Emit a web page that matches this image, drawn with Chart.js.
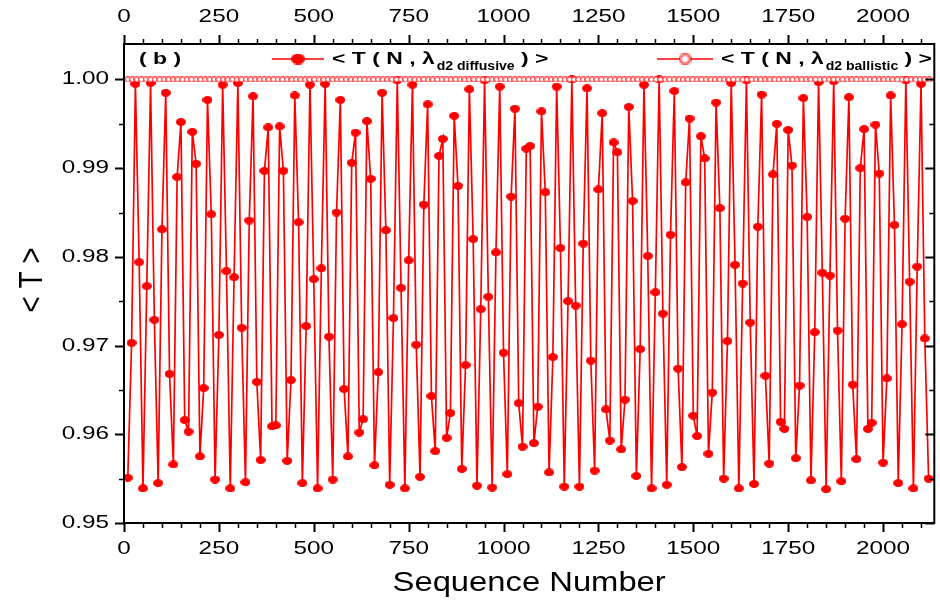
<!DOCTYPE html>
<html>
<head>
<meta charset="utf-8">
<script src="https://cdn.jsdelivr.net/npm/chart.js@4.4.1/dist/chart.umd.min.js"></script>
<style>
  html, body { margin: 0; padding: 0; background: #ffffff; }
  #wrap { width: 940px; height: 603px; }
</style>
</head>
<body>
<div id="wrap"><canvas id="chart" width="940" height="603"></canvas></div>
<script>
// Sequence numbers: first point and spacing between successive sequences
const seqStart = 10;
const seqStep = 10;

// <T(N, λd2 diffusive)> for each sequence
const diffusiveT = [
  0.9551, 0.9703, 0.9995, 0.9794, 0.9539, 0.9767, 0.9996, 0.9729, 0.9545, 0.9831,
  0.9985, 0.9668, 0.9566, 0.9890, 0.9952, 0.9616, 0.9603, 0.9941, 0.9905, 0.9575,
  0.9652, 0.9977, 0.9848, 0.9549, 0.9712, 0.9994, 0.9784, 0.9539, 0.9777, 0.9996,
  0.9720, 0.9546, 0.9841, 0.9981, 0.9659, 0.9571, 0.9897, 0.9946, 0.9609, 0.9610,
  0.9947, 0.9897, 0.9570, 0.9661, 0.9982, 0.9839, 0.9545, 0.9722, 0.9994, 0.9775,
  0.9539, 0.9787, 0.9995, 0.9710, 0.9549, 0.9850, 0.9977, 0.9651, 0.9575, 0.9906,
  0.9940, 0.9602, 0.9617, 0.9953, 0.9888, 0.9565, 0.9670, 0.9985, 0.9830, 0.9543,
  0.9731, 0.9999, 0.9765, 0.9539, 0.9796, 0.9994, 0.9701, 0.9552, 0.9859, 0.9972,
  0.9643, 0.9581, 0.9914, 0.9933, 0.9596, 0.9624, 0.9959, 0.9880, 0.9561, 0.9678,
  0.9989, 0.9820, 0.9542, 0.9741, 0.9999, 0.9755, 0.9540, 0.9805, 0.9992, 0.9692,
  0.9555, 0.9868, 0.9967, 0.9635, 0.9586, 0.9922, 0.9925, 0.9590, 0.9631, 0.9964,
  0.9873, 0.9557, 0.9687, 0.9992, 0.9810, 0.9541, 0.9750, 1.0000, 0.9745, 0.9541,
  0.9815, 0.9990, 0.9683, 0.9559, 0.9876, 0.9962, 0.9628, 0.9593, 0.9929, 0.9918,
  0.9583, 0.9639, 0.9969, 0.9863, 0.9553, 0.9696, 0.9994, 0.9801, 0.9539, 0.9760,
  1.0000, 0.9736, 0.9543, 0.9825, 0.9987, 0.9674, 0.9563, 0.9884, 0.9956, 0.9621,
  0.9598, 0.9936, 0.9911, 0.9578, 0.9647, 0.9974, 0.9855, 0.9550, 0.9705, 0.9996,
  0.9791, 0.9539, 0.9770, 0.9999, 0.9726, 0.9544, 0.9834, 0.9983, 0.9666, 0.9567,
  0.9893, 0.9950, 0.9614, 0.9606, 0.9943, 0.9903, 0.9573, 0.9655, 0.9979, 0.9845,
  0.9548, 0.9715, 0.9997, 0.9782, 0.9538, 0.9779, 0.9998, 0.9717, 0.9547, 0.9843,
  0.9980, 0.9656, 0.9572, 0.9900, 0.9944, 0.9606, 0.9613, 0.9949, 0.9894, 0.9568,
  0.9663, 0.9982, 0.9836, 0.9545, 0.9724, 0.9999, 0.9772, 0.9539, 0.9789, 0.9995,
  0.9708, 0.9550
];

// <T(N, λd2 ballistic)>: sampled on its own, denser grid
const ballisticStart = 10;
const ballisticStep = 12;
const ballisticT = [
  1,1,1,1,1,1,1,1,1,1, 1,1,1,1,1,1,1,1,1,1, 1,1,1,1,1,1,1,1,1,1,
  1,1,1,1,1,1,1,1,1,1, 1,1,1,1,1,1,1,1,1,1, 1,1,1,1,1,1,1,1,1,1,
  1,1,1,1,1,1,1,1,1,1, 1,1,1,1,1,1,1,1,1,1, 1,1,1,1,1,1,1,1,1,1,
  1,1,1,1,1,1,1,1,1,1, 1,1,1,1,1,1,1,1,1,1, 1,1,1,1,1,1,1,1,1,1,
  1,1,1,1,1,1,1,1,1,1, 1,1,1,1,1,1,1,1,1,1, 1,1,1,1,1,1,1,1,1,1,
  1,1,1,1,1,1,1,1,1,1, 1,1,1,1,1,1,1,1,1,1, 1,1,1,1,1,1,1
];

// Axis ticks
const xTicks = [0, 250, 500, 750, 1000, 1250, 1500, 1750, 2000];
const xMinorStep = 50;
const yTicks = [0.95, 0.96, 0.97, 0.98, 0.99, 1.00];
const yTickLabels = ['0.95', '0.96', '0.97', '0.98', '0.99', '1.00'];
const yMinorStep = 0.005;

const X_MIN = 0, X_MAX = 2135;
const Y_MIN = 0.95, Y_MAX = 1.004;

const RED = '#ff0000';
const FONT = '"Liberation Sans", Arial, Helvetica, sans-serif';

// Marker images: slightly wide filled dot and small open ring
function makeDot(w, h, filled) {
  const c = document.createElement('canvas');
  c.width = w; c.height = h;
  const g = c.getContext('2d');
  g.beginPath();
  g.ellipse(w / 2, h / 2, w / 2 - (filled ? 0 : 0.6), h / 2 - (filled ? 0 : 0.6), 0, 0, Math.PI * 2);
  if (filled) {
    g.fillStyle = RED; g.fill();
  } else {
    g.fillStyle = '#ffffff'; g.fill();
    g.lineWidth = 1; g.strokeStyle = RED; g.stroke();
  }
  return c;
}
const dotFilled = makeDot(10, 8, true);
const dotOpen = makeDot(7, 6, false);

const diffusivePts = diffusiveT.map((v, i) => ({ x: seqStart + i * seqStep, y: v }));
const ballisticPts = ballisticT.map((v, i) => ({ x: ballisticStart + i * ballisticStep, y: v }));

// Stretched text helper
function stretchText(ctx, txt, x, y, sx, align) {
  ctx.save();
  ctx.translate(x, y);
  ctx.scale(sx, 1);
  ctx.textAlign = align || 'left';
  ctx.fillText(txt, 0, 0);
  ctx.restore();
}
function textW(ctx, txt, sx) { return ctx.measureText(txt).width * sx; }

const frameAndText = {
  id: 'frameAndText',
  afterDraw(chart) {
    const ctx = chart.ctx;
    const a = chart.chartArea;
    const xs = chart.scales.x;
    const ys = chart.scales.y;
    ctx.save();

    // frame
    ctx.strokeStyle = '#000';
    ctx.lineWidth = 2;
    ctx.strokeRect(a.left, a.top, a.right - a.left, a.bottom - a.top);

    // x ticks, bottom (outward) and top (outward)
    for (let v = X_MIN; v <= X_MAX; v += xMinorStep) {
      const px = Math.round(xs.getPixelForValue(v)) + 0.5;
      const major = xTicks.includes(v);
      const len = major ? 9 : 5;
      ctx.lineWidth = major ? 2 : 1.5;
      ctx.beginPath();
      ctx.moveTo(px, a.bottom); ctx.lineTo(px, a.bottom + len);
      ctx.moveTo(px, a.top); ctx.lineTo(px, a.top - len);
      ctx.stroke();
    }
    // y ticks, left (outward) and right (inward)
    for (let k = 0; ; k++) {
      const v = Y_MIN + k * yMinorStep;
      if (v > Y_MAX + 1e-9) break;
      const py = Math.round(ys.getPixelForValue(v)) + 0.5;
      const major = k % 2 === 0;
      const len = major ? 9 : 5;
      ctx.lineWidth = major ? 2 : 1.5;
      ctx.beginPath();
      ctx.moveTo(a.left, py); ctx.lineTo(a.left - len, py);
      ctx.moveTo(a.right, py); ctx.lineTo(a.right - len, py);
      ctx.stroke();
    }

    // tick labels
    ctx.fillStyle = '#000';
    ctx.font = '18px ' + FONT;
    ctx.textBaseline = 'middle';
    const tsx = 1.35;
    xTicks.forEach(v => {
      const px = xs.getPixelForValue(v);
      stretchText(ctx, String(v), px, a.bottom + 26, tsx, 'center');
      stretchText(ctx, String(v), px, a.top - 27, tsx, 'center');
    });
    yTicks.forEach((v, i) => {
      const py = ys.getPixelForValue(v);
      stretchText(ctx, yTickLabels[i], a.left - 15, py, tsx, 'right');
    });

    // axis titles
    ctx.font = '28px ' + FONT;
    stretchText(ctx, 'Sequence Number', (a.left + a.right) / 2, 583, 1.17, 'center');
    ctx.save();
    ctx.translate(33, 280);
    ctx.rotate(-Math.PI / 2);
    ctx.scale(1, 1.17);
    ctx.textAlign = 'center';
    ctx.fillText('< T >', 0, 0);
    ctx.restore();

    // panel tag and legend
    const ly = 59;
    ctx.font = 'bold 17px ' + FONT;
    stretchText(ctx, '( b )', 139, ly, 1.35, 'left');

    function legendEntry(x0, x1, img, sub) {
      ctx.strokeStyle = RED;
      ctx.lineWidth = 1.6;
      ctx.beginPath();
      ctx.moveTo(x0, ly); ctx.lineTo(x1, ly);
      ctx.stroke();
      const big = img === dotFilled ? 14 : 13;
      const bigH = img === dotFilled ? 11 : 12;
      ctx.drawImage(img, (x0 + x1) / 2 - big / 2, ly - bigH / 2, big, bigH);
      let x = x1 + 8;
      ctx.fillStyle = '#000';
      ctx.font = 'bold 17px ' + FONT;
      const part1 = '< T ( N , \u03bb';
      stretchText(ctx, part1, x, ly, 1.35, 'left');
      x += textW(ctx, part1, 1.35) + 2;
      ctx.font = 'bold 12px ' + FONT;
      stretchText(ctx, sub, x, ly + 8, 1.17, 'left');
      x += textW(ctx, sub, 1.17);
      ctx.font = 'bold 17px ' + FONT;
      stretchText(ctx, ' ) >', x, ly, 1.35, 'left');
    }
    legendEntry(272, 324, dotFilled, 'd2 diffusive');
    legendEntry(657, 713, dotOpen, 'd2 ballistic');

    ctx.restore();
  }
};

new Chart(document.getElementById('chart'), {
  type: 'scatter',
  data: {
    datasets: [
      {
        label: '< T ( N , λd2 ballistic ) >',
        data: ballisticPts,
        showLine: true,
        borderColor: RED,
        borderWidth: 1,
        pointStyle: dotOpen,
        pointRadius: 3,
        pointHoverRadius: 3,
        order: 0
      },
      {
        label: '< T ( N , λd2 diffusive ) >',
        data: diffusivePts,
        showLine: true,
        borderColor: RED,
        borderWidth: 1.7,
        pointStyle: dotFilled,
        pointRadius: 4,
        pointHoverRadius: 4,
        order: 1
      }
    ]
  },
  options: {
    responsive: false,
    animation: false,
    devicePixelRatio: 1,
    layout: { padding: 0 },
    plugins: { legend: { display: false }, tooltip: { enabled: false } },
    scales: {
      x: {
        type: 'linear',
        position: 'bottom',
        min: X_MIN, max: X_MAX,
        afterBuildTicks: s => { s.ticks = xTicks.map(v => ({ value: v })); },
        afterFit: s => { s.height = 80; },
        ticks: { display: false },
        grid: { display: false, drawTicks: false },
        border: { display: false }
      },
      xTop: {
        type: 'linear',
        position: 'top',
        min: X_MIN, max: X_MAX,
        afterBuildTicks: s => { s.ticks = xTicks.map(v => ({ value: v })); },
        afterFit: s => { s.height = 44; },
        ticks: { display: false },
        grid: { display: false, drawTicks: false },
        border: { display: false }
      },
      y: {
        type: 'linear',
        position: 'left',
        min: Y_MIN, max: Y_MAX,
        afterBuildTicks: s => { s.ticks = yTicks.map(v => ({ value: v })); },
        afterFit: s => { s.width = 124; },
        ticks: { display: false },
        grid: { display: false, drawTicks: false },
        border: { display: false }
      }
    }
  },
  plugins: [frameAndText]
});
</script>
</body>
</html>
